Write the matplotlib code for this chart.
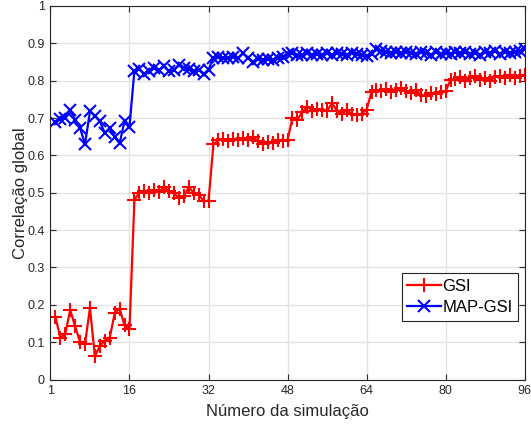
import numpy as np
import matplotlib
matplotlib.use("Agg")
import matplotlib.pyplot as plt

plt.rcParams['font.family'] = ['Liberation Sans', 'DejaVu Sans']

# Global correlation per simulation run
sim = np.arange(1, 97)

gsi = [0.168, 0.112, 0.122, 0.186, 0.142, 0.100, 0.095, 0.192, 0.062, 0.090, 0.104, 0.112, 0.177, 0.190, 0.145, 0.135,
       0.481, 0.500, 0.505, 0.498, 0.508, 0.502, 0.515, 0.505, 0.500, 0.485, 0.490, 0.515, 0.500, 0.495, 0.478, 0.478,
       0.630, 0.640, 0.645, 0.638, 0.645, 0.640, 0.646, 0.640, 0.650, 0.638, 0.630, 0.636, 0.634, 0.640, 0.638, 0.642,
       0.700, 0.695, 0.717, 0.730, 0.720, 0.725, 0.722, 0.718, 0.740, 0.720, 0.712, 0.722, 0.710, 0.708, 0.712, 0.722,
       0.770, 0.775, 0.772, 0.778, 0.770, 0.775, 0.780, 0.772, 0.768, 0.776, 0.762, 0.760, 0.768, 0.765, 0.770, 0.772,
       0.802, 0.805, 0.810, 0.800, 0.806, 0.812, 0.803, 0.808, 0.800, 0.810, 0.812, 0.806, 0.815, 0.808, 0.812, 0.815]

map_gsi = [0.690, 0.697, 0.700, 0.722, 0.695, 0.673, 0.630, 0.718, 0.706, 0.691, 0.660, 0.673, 0.650, 0.632, 0.692, 0.677,
           0.827, 0.831, 0.818, 0.827, 0.834, 0.829, 0.838, 0.825, 0.829, 0.842, 0.835, 0.832, 0.825, 0.829, 0.818, 0.829,
           0.862, 0.864, 0.860, 0.860, 0.864, 0.860, 0.873, 0.860, 0.851, 0.857, 0.856, 0.857, 0.854, 0.860, 0.863, 0.871,
           0.873, 0.870, 0.868, 0.875, 0.870, 0.872, 0.868, 0.874, 0.870, 0.875, 0.872, 0.869, 0.874, 0.871, 0.868, 0.866,
           0.872, 0.885, 0.880, 0.878, 0.874, 0.876, 0.873, 0.878, 0.874, 0.872, 0.877, 0.874, 0.870, 0.876, 0.872, 0.875,
           0.871, 0.876, 0.873, 0.878, 0.872, 0.875, 0.870, 0.876, 0.874, 0.879, 0.872, 0.878, 0.874, 0.876, 0.880, 0.885]

xtick_pos = [0, 16, 32, 48, 64, 80, 96]
xtick_labels = ['1', '16', '32', '48', '64', '80', '96']

fig = plt.figure(figsize=(5.31, 4.25), dpi=100)
ax = fig.add_axes([0.095, 0.107, 0.893, 0.879])

ax.plot(sim, gsi, color='red', marker='+', ms=10, mew=1.5, lw=1.6, label='GSI')
ax.plot(sim, map_gsi, color='blue', marker='x', ms=9, mew=1.5, lw=1.6, label='MAP-GSI')

ax.set_xlim(0, 96)
ax.set_ylim(0, 1)
ax.set_xticks(xtick_pos)
ax.set_xticklabels(xtick_labels)
ax.set_yticks(np.arange(0, 1.01, 0.1))
ax.set_yticklabels(['0', '0.1', '0.2', '0.3', '0.4', '0.5', '0.6', '0.7', '0.8', '0.9', '1'])

ax.grid(True, color='#e3e3e3', lw=1)
ax.set_axisbelow(True)
for s in ax.spines.values():
    s.set_color('#262626')
    s.set_linewidth(0.8)
ax.tick_params(direction='in', length=4, width=0.8, top=True, right=True,
               labelsize=9, colors='#262626', pad=4)

ax.set_xlabel('Número da simulação', fontsize=12, color='#262626', labelpad=5)
ax.set_ylabel('Correlação global', fontsize=12, color='#262626', labelpad=0)

leg = ax.legend(loc='lower right', bbox_to_anchor=(0.987, 0.157), borderaxespad=0,
                fontsize=12, fancybox=False, edgecolor='#262626', framealpha=1,
                handlelength=2.0, handletextpad=0.1, borderpad=0.35, labelspacing=0.35)
leg.get_frame().set_linewidth(0.8)

fig.savefig('out.png', dpi=100)
